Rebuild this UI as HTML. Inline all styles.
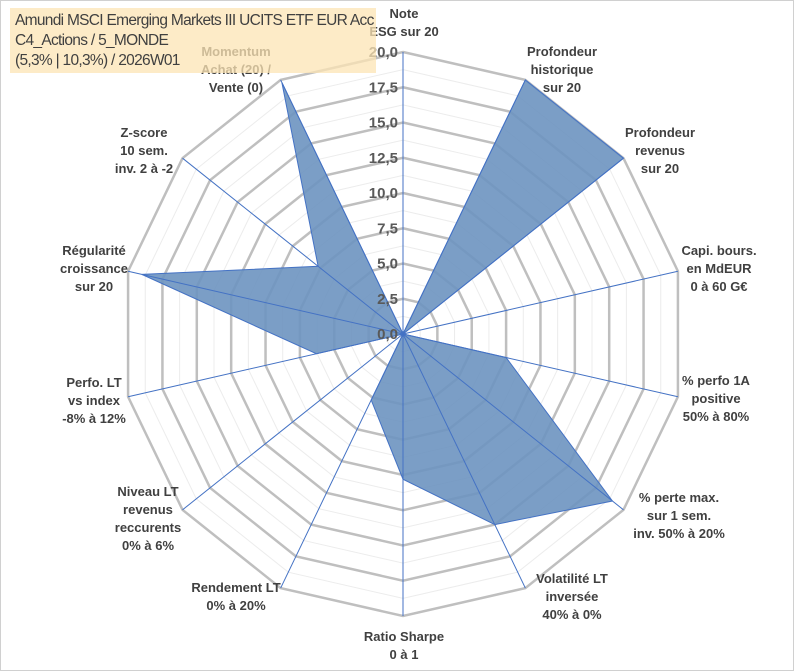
<!DOCTYPE html>
<html><head><meta charset="utf-8"><style>
html,body{margin:0;padding:0;background:#fff}
#wrap{position:relative;width:801px;height:671px;overflow:hidden;font-family:"Liberation Sans",sans-serif}
.lbl{position:absolute;transform:translateX(-50%);text-align:center;font-weight:bold;font-size:13px;line-height:18px;color:#404040;white-space:nowrap}
#title{position:absolute;left:10px;top:8px;width:366px;height:65px;background:rgba(252,228,180,0.75);font-size:15.5px;letter-spacing:-0.7px;line-height:20px;color:#404040;padding:3px 0 0 5px;box-sizing:border-box;white-space:nowrap}
</style></head><body>
<div id="wrap">
<svg id="svg" width="801" height="671" style="position:absolute;left:0;top:0">
<rect x="0.5" y="0.5" width="793" height="670" fill="none" stroke="#d0d0d0"/>
</svg>
<div id="title">Amundi MSCI Emerging Markets III UCITS ETF EUR Acc<br>C4_Actions / 5_MONDE<br>(5,3% | 10,3%) / 2026W01</div>
</div>
<script>
const categories=["Note\nESG sur 20","Profondeur\nhistorique\nsur 20","Profondeur\nrevenus\nsur 20","Capi. bours.\nen MdEUR\n0 à 60 G€","% perfo 1A\npositive\n50% à 80%","% perte max.\nsur 1 sem.\ninv. 50% à 20%","Volatilité LT\ninversée\n40% à 0%","Ratio Sharpe\n0 à 1","Rendement LT\n0% à 20%","Niveau LT\nrevenus\nreccurents\n0% à 6%","Perfo. LT\nvs index\n-8% à 12%","Régularité\ncroissance\nsur 20","Z-score\n10 sem.\ninv. 2 à -2","Momentum\nAchat (20) /\nVente (0)"];
const values=[0,20,20,0,7.5,19,15,10.3,5.2,0,6.3,19,7.7,19.8];
const tickLabels=["0,0","2,5","5,0","7,5","10,0","12,5","15,0","17,5","20,0"];
const maxVal=20;
const cx=403,cy=334,R=282,N=categories.length;
const svg=document.getElementById('svg'),wrap=document.getElementById('wrap');
const NS="http://www.w3.org/2000/svg";
function ang(i){return -Math.PI/2+i*2*Math.PI/N;}
function pt(i,v){const r=v/maxVal*R;return [cx+r*Math.cos(ang(i)),cy+r*Math.sin(ang(i))];}
function mk(t,a){const e=document.createElementNS(NS,t);for(const k in a)e.setAttribute(k,a[k]);svg.appendChild(e);return e;}
for(let k=1;k<=16;k++){const v=k*1.25;const ps=[];for(let i=0;i<N;i++)ps.push(pt(i,v).join(','));
const major=(k%2===0);
const g=mk('polygon',{points:ps.join(' '),fill:'none',stroke:major?'#bfbfbf':'#ececec','stroke-width':major?2.5:1});

}
const ps=values.map((v,i)=>pt(i,v).join(','));
const area=mk('polygon',{points:ps.join(' '),fill:'#6d93c0','fill-opacity':0.9,stroke:'#4472c4','stroke-width':1});


for(let i=0;i<N;i++){const p=pt(i,maxVal);const l=mk('line',{x1:cx,y1:cy,x2:p[0],y2:p[1],stroke:'#4472c4','stroke-width':1});

}
tickLabels.forEach((t,k)=>{const y=cy-k*2.5/maxVal*R;const tx=mk('text',{x:398,y:y+5,'text-anchor':'end','font-size':15,'font-weight':'bold',fill:'#595959','font-family':'Liberation Sans, sans-serif'});tx.textContent=t;

});
const lpos=[[404,5],[562,43],[660,124],[719,242],[716,372],[679,489],[572,570],[404,628],[236,579],[148,483],[94,374],[94,242],[144,124],[236,43]];
categories.forEach((c,i)=>{const d=document.createElement('div');d.className='lbl';d.style.left=lpos[i][0]+'px';d.style.top=lpos[i][1]+'px';d.innerHTML=c.replace(/\n/g,'<br>');


wrap.insertBefore(d,document.getElementById('title'));});
</script>
</body></html>
